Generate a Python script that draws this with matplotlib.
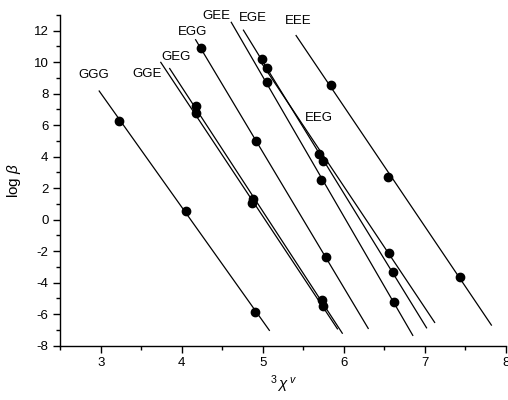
import numpy as np
import matplotlib
matplotlib.use("Agg")
import matplotlib.pyplot as plt
from matplotlib.ticker import MultipleLocator

plt.rcParams['font.family'] = ['Liberation Sans', 'DejaVu Sans']
plt.rcParams['mathtext.fontset'] = 'custom'
plt.rcParams['mathtext.rm'] = 'Liberation Sans'
plt.rcParams['mathtext.it'] = 'Liberation Sans:italic'
plt.rcParams['axes.unicode_minus'] = False

# series (fragment classes)
names = ['GGG', 'GGE', 'GEG', 'EGG', 'GEE', 'EGE', 'EEG', 'EEE']

# 3chi^v values of the points
chi_GGG = [3.23, 4.05, 4.905]
chi_GGE = [4.17, 4.865, 5.74]
chi_GEG = [4.17, 4.875, 5.725]
chi_EGG = [4.234, 4.91, 5.775]
chi_GEE = [5.045, 5.722, 6.615]
chi_EGE = [4.984, 5.742, 6.603]
chi_EEG = [5.045, 5.693, 6.562]
chi_EEE = [5.845, 6.55, 7.436]

# log beta values
logb_GGG = [6.29, 0.57, -5.83]
logb_GGE = [6.76, 1.07, -5.45]
logb_GEG = [7.19, 1.30, -5.10]
logb_EGG = [10.91, 5.00, -2.36]
logb_GEE = [8.74, 2.55, -5.21]
logb_EGE = [10.23, 3.70, -3.32]
logb_EEG = [9.65, 4.17, -2.09]
logb_EEE = [8.53, 2.72, -3.64]

# range of the fitted lines
fit_from = [2.98, 3.74, 3.85, 4.17, 4.61, 4.76, 4.98, 5.41]
fit_to = [5.08, 5.92, 5.98, 6.30, 6.85, 7.02, 7.12, 7.82]

chi = [chi_GGG, chi_GGE, chi_GEG, chi_EGG, chi_GEE, chi_EGE, chi_EEG, chi_EEE]
logb = [logb_GGG, logb_GGE, logb_GEG, logb_EGG, logb_GEE, logb_EGE, logb_EEG, logb_EEE]

# where the labels sit (centre of text)
label_xy = [(2.91, 9.2), (3.57, 9.27), (3.93, 10.36), (4.13, 11.95),
            (4.42, 12.91), (4.88, 12.81), (5.685, 6.43), (5.43, 12.65)]

fig = plt.figure(figsize=(5.08, 4.0), dpi=100)
ax = fig.add_axes([0.1187, 0.1358, 0.996 - 0.1187, 0.9625 - 0.1358])

for i in range(len(names)):
    k, b = np.polyfit(chi[i], logb[i], 1)
    xs = np.array([fit_from[i], fit_to[i]])
    ax.plot(xs, k * xs + b, color='black', lw=0.9)
    ax.plot(chi[i], logb[i], 'o', color='black', ms=6)
    ax.text(label_xy[i][0], label_xy[i][1], names[i], ha='center', va='center', fontsize=9.5)

ax.set_xlim(2.5, 8)
ax.set_ylim(-8, 13)
ax.xaxis.set_major_locator(MultipleLocator(1))
ax.xaxis.set_minor_locator(MultipleLocator(0.5))
ax.yaxis.set_major_locator(MultipleLocator(2))
ax.yaxis.set_minor_locator(MultipleLocator(1))
ax.tick_params(which='major', length=5, width=1, labelsize=9.5)
ax.tick_params(which='minor', length=3, width=1)
ax.spines['top'].set_visible(False)
ax.spines['right'].set_visible(False)
ax.spines['left'].set_linewidth(1)
ax.spines['bottom'].set_linewidth(1)

ax.set_xlabel(r'$^{3}\,\chi^{\,v}$', fontsize=11, labelpad=3)
ax.set_ylabel(r'log $\beta$', fontsize=11, labelpad=8)

fig.savefig('out.png', dpi=100)
